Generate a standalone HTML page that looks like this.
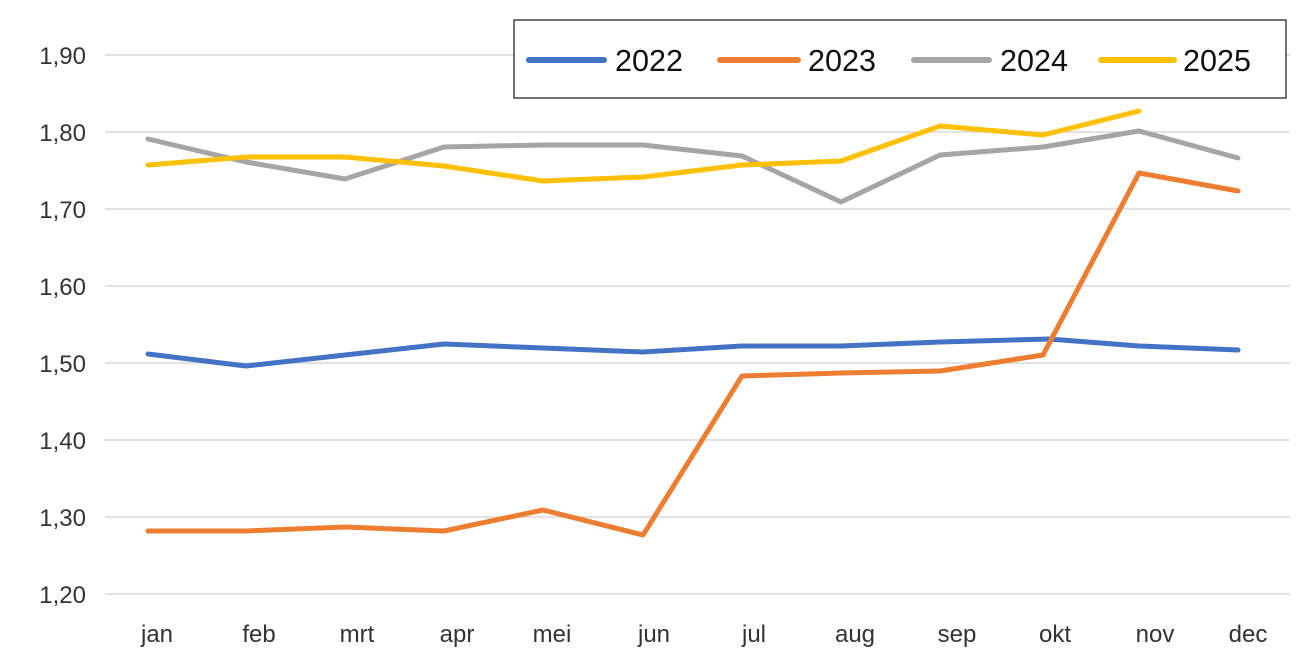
<!DOCTYPE html>
<html><head><meta charset="utf-8"><style>
html,body{margin:0;padding:0;background:#fff;}
svg{display:block;font-family:"Liberation Sans Narrow","Liberation Sans",sans-serif;}
</style></head><body>
<svg width="1312" height="669" viewBox="0 0 1312 669" xmlns="http://www.w3.org/2000/svg">
<rect width="1312" height="669" fill="#fff"/>
<g stroke="#d9d9d9" stroke-width="1.5">
<line x1="105" y1="55" x2="1290" y2="55"/>
<line x1="105" y1="132" x2="1290" y2="132"/>
<line x1="105" y1="209" x2="1290" y2="209"/>
<line x1="105" y1="286" x2="1290" y2="286"/>
<line x1="105" y1="363" x2="1290" y2="363"/>
<line x1="105" y1="440" x2="1290" y2="440"/>
<line x1="105" y1="517" x2="1290" y2="517"/>
<line x1="105" y1="594" x2="1290" y2="594"/>
</g>
<g font-size="24" fill="#333" text-anchor="end">
<text x="86" y="64">1,90</text>
<text x="86" y="141">1,80</text>
<text x="86" y="218">1,70</text>
<text x="86" y="295">1,60</text>
<text x="86" y="372">1,50</text>
<text x="86" y="449">1,40</text>
<text x="86" y="526">1,30</text>
<text x="86" y="603">1,20</text>
</g>
<g font-size="24" fill="#333" text-anchor="middle">
<text x="157" y="642">jan</text><text x="259" y="642">feb</text><text x="357" y="642">mrt</text>
<text x="457" y="642">apr</text><text x="552" y="642">mei</text><text x="654" y="642">jun</text>
<text x="754" y="642">jul</text><text x="855" y="642">aug</text><text x="957" y="642">sep</text>
<text x="1055" y="642">okt</text><text x="1155" y="642">nov</text><text x="1248" y="642">dec</text>
</g>
<g fill="none" stroke-width="5" stroke-linejoin="round" stroke-linecap="round">
<polyline stroke="#4472C4" points="148,354 246,366 345,355 444,344 543,348 643,352 742,346 841,346 940,342 1049,339 1139,346 1238,350"/>
<polyline stroke="#ED7D31" points="148,531 246,531 345,527 444,531 543,510 643,535 742,376 841,373 940,371 1043,355 1139,173 1238,191"/>
<polyline stroke="#A5A5A5" points="148,139 246,162 345,179 444,147 543,145 643,145 742,156 841,202 940,155 1043,147 1139,131 1238,158"/>
<polyline stroke="#FFC000" points="148,165 246,157 345,157 444,166 543,181 643,177 742,165 841,161 940,126 1043,135 1139,111"/>
</g>
<rect x="514" y="20" width="772" height="78" fill="#fff" stroke="#444" stroke-width="1.5"/>
<g stroke-width="6" stroke-linecap="round">
<line x1="529" y1="60" x2="604" y2="60" stroke="#4472C4"/>
<line x1="720" y1="60" x2="798" y2="60" stroke="#ED7D31"/>
<line x1="914" y1="60" x2="989" y2="60" stroke="#A5A5A5"/>
<line x1="1101" y1="60" x2="1174" y2="60" stroke="#FFC000"/>
</g>
<g font-size="31" fill="#111">
<text x="615" y="71" textLength="68" lengthAdjust="spacingAndGlyphs">2022</text>
<text x="808" y="71" textLength="68" lengthAdjust="spacingAndGlyphs">2023</text>
<text x="1000" y="71" textLength="68" lengthAdjust="spacingAndGlyphs">2024</text>
<text x="1183" y="71" textLength="68" lengthAdjust="spacingAndGlyphs">2025</text>
</g>
</svg>
</body></html>
